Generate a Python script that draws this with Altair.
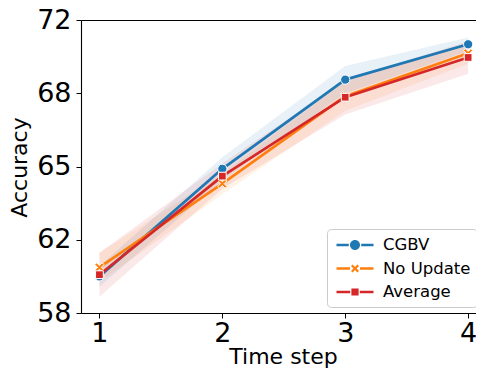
import altair as alt
import pandas as pd

# ---- data ----
time_steps = [1, 2, 3, 4]
series_names = ["CGBV", "No Update", "Average"]
series_colors = ["#1f77b4", "#ff7f0e", "#d62728"]

cgbv_mean = [59.75, 64.89, 69.15, 70.84]
cgbv_err = [0.50, 0.55, 0.65, 0.32]
noupdate_mean = [60.18, 64.18, 68.36, 70.41]
noupdate_err = [0.70, 0.50, 0.70, 0.50]
average_mean = [59.83, 64.54, 68.31, 70.21]
average_err = [1.05, 0.60, 0.82, 0.78]

y_tick_values = [58, 61.5, 65, 68.5, 72]
y_tick_labels = ["58", "62", "65", "68", "72"]
x_tick_values = [1, 2, 3, 4]

means = [cgbv_mean, noupdate_mean, average_mean]
errs = [cgbv_err, noupdate_err, average_err]

rows = []
for name, m, e in zip(series_names, means, errs):
    for t, mv, ev in zip(time_steps, m, e):
        rows.append({"time": t, "series": name, "acc": mv, "lo": mv - ev, "hi": mv + ev})
df = pd.DataFrame(rows)

FONT = "DejaVu Sans"
PLOT_W, PLOT_H = 395, 293

# marker shapes (unit box [-1,1])
X_PATH = "M-1,-0.6L-0.6,-1L0,-0.4L0.6,-1L1,-0.6L0.4,0L1,0.6L0.6,1L0,0.4L-0.6,1L-1,0.6L-0.4,0Z"
marker_shapes = ["circle", X_PATH, "square"]
marker_sizes = [85, 85, 60]

# legend symbols: line + marker (unit = 10px with symbolSize 400)
def seg(gap):
    return (f"M-1.85,-0.13H-{gap}V0.13H-1.85Z M{gap},-0.13H1.85V0.13H{gap}Z ")

leg_circle = seg(0.62) + "M-0.5,0A0.5,0.5 0 1,0 0.5,0A0.5,0.5 0 1,0 -0.5,0Z"
xs = [(-1, -0.6), (-0.6, -1), (0, -0.4), (0.6, -1), (1, -0.6), (0.4, 0), (1, 0.6), (0.6, 1),
      (0, 0.4), (-0.6, 1), (-1, 0.6), (-0.4, 0)]
leg_x = seg(0.5) + "M" + "L".join(f"{a*0.4:.3f},{b*0.4:.3f}" for a, b in xs) + "Z"
leg_square = seg(0.48) + "M-0.36,-0.36H0.36V0.36H-0.36Z"
legend_shapes = [leg_circle, leg_x, leg_square]

x_scale = alt.Scale(domain=[0.85, 4.064], nice=False, zero=False)
y_scale = alt.Scale(domain=[58, 72], nice=False, zero=False)

vals = "[" + ",".join(str(v) for v in y_tick_values) + "]"
labs = "[" + ",".join(f"'{l}'" for l in y_tick_labels) + "]"
y_label_expr = f"indexof({vals}, datum.value) >= 0 ? {labs}[indexof({vals}, datum.value)] : ''"

x_axis = alt.Axis(values=x_tick_values, format="d", title="Time step", labelFontSize=27,
                  titleFontSize=22, titleFontWeight="normal", tickSize=5, labelPadding=2,
                  titleBaseline="alphabetic", titleY=50, titleX=202, titleAlign="center",
                  grid=False, domain=True, domainColor="black", domainWidth=1.1,
                  labelFont=FONT, titleFont=FONT, labelColor="black", titleColor="black",
                  tickColor="black", labelFlush=False)
x_axis_top = alt.Axis(orient="top", labels=False, ticks=False, title=None, grid=False,
                      domain=True, domainColor="black", domainWidth=1.1)
y_axis = alt.Axis(values=y_tick_values, labelExpr=y_label_expr, title="Accuracy", labelFontSize=27,
                  titleFontSize=22, titleFontWeight="normal", tickSize=5, labelPadding=5,
                  titleX=-62, titleY=147, titleAngle=270, titleBaseline="middle", titleAlign="center",
                  grid=False, domain=True, domainColor="black", domainWidth=1.1,
                  labelFont=FONT, titleFont=FONT, labelColor="black",
                  titleColor="black", tickColor="black", labelFlush=False)

base = alt.Chart(df)
X0 = alt.X("time:Q", scale=x_scale, axis=None)
Y0 = alt.Y("acc:Q", scale=y_scale, axis=None)

layers = []
for name, col in zip(series_names, series_colors):
    layers.append(
        base.transform_filter(alt.datum.series == name)
        .mark_area(color=col, opacity=0.1)
        .encode(x=X0, y=alt.Y("lo:Q", scale=y_scale, axis=None), y2="hi:Q")
    )
for name, col, shp, sz in zip(series_names, series_colors, marker_shapes, marker_sizes):
    layers.append(
        base.transform_filter(alt.datum.series == name)
        .mark_line(color=col, strokeWidth=2.7, strokeJoin="round")
        .encode(x=X0, y=Y0)
    )
    layers.append(
        base.transform_filter(alt.datum.series == name)
        .mark_point(shape=shp, size=sz, filled=True, fill=col, stroke="white",
                    strokeWidth=1, opacity=1)
        .encode(x=X0, y=Y0)
    )

leg = alt.Legend(title=None, orient="none", legendX=246, legendY=209, padding=6,
                 fillColor="rgba(255,255,255,0.8)", strokeColor="#cccccc", cornerRadius=4,
                 symbolSize=400, symbolStrokeWidth=0, symbolOpacity=1, symbolOffset=12,
                 labelFontSize=16.5, labelFont=FONT, labelColor="black", labelOffset=18,
                 rowPadding=4.5, labelLimit=200)

legend_layer = base.mark_point(filled=True, opacity=0, size=400).encode(
    x=alt.X("time:Q", scale=x_scale, axis=x_axis),
    y=alt.Y("acc:Q", scale=y_scale, axis=y_axis),
    color=alt.Color("series:N", scale=alt.Scale(domain=series_names, range=series_colors), legend=leg),
    shape=alt.Shape("series:N", scale=alt.Scale(domain=series_names, range=legend_shapes), legend=leg),
)
layers.append(legend_layer)

top_frame = base.mark_point(opacity=0).encode(
    x=alt.X("time:Q", scale=x_scale, axis=x_axis_top),
    y=alt.Y("acc:Q", scale=y_scale, axis=None),
)
layers.append(top_frame)

chart = alt.layer(*layers).resolve_axis(x="independent", y="independent").properties(
    width=PLOT_W, height=PLOT_H,
    autosize=alt.AutoSizeParams(type="none"),
    padding={"left": 73, "top": 12, "right": 0, "bottom": 55},
).configure_view(stroke=None)

chart.save("out.html", embed_options={"renderer": "svg", "actions": False})
